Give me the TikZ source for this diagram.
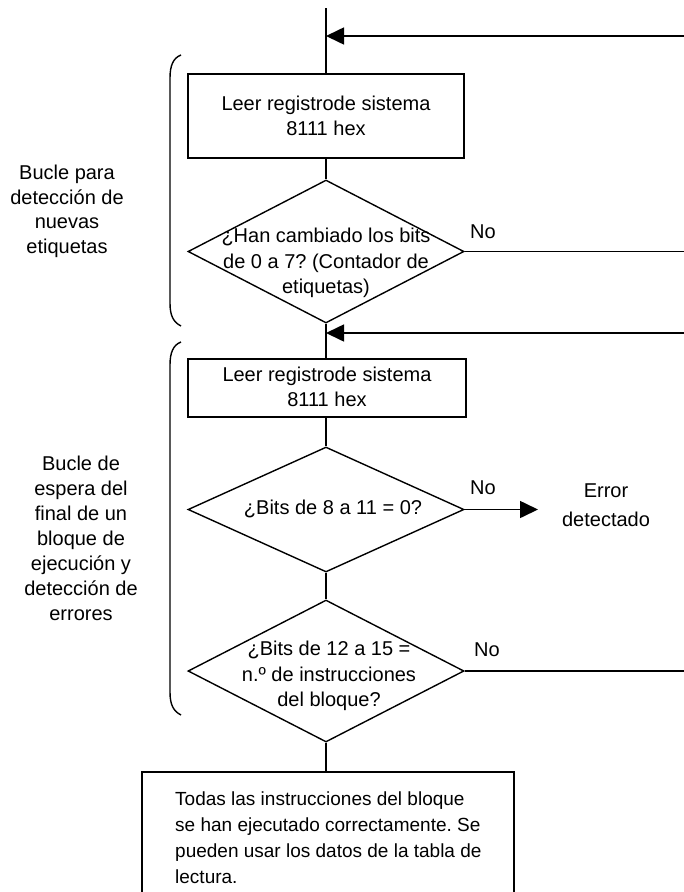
\documentclass[tikz,border=0pt]{standalone}
\usepackage{fontspec}
\setmainfont{Liberation Sans}
\usetikzlibrary{shapes.geometric,arrows.meta}
\frenchspacing
\begin{document}
\begin{tikzpicture}[x=1pt,y=-1pt,
  ln/.style={line width=1.6pt},
  arr/.style={line width=1.6pt,-{Triangle[length=18pt,width=17pt]}},
  box/.style={draw,line width=1.8pt,rectangle,inner sep=0pt},
  dia/.style={draw,line width=1.4pt,diamond,inner sep=0pt},
  txt/.style={align=center,inner sep=0pt,font=\fontsize{20}{25.5}\selectfont},
  brace/.style={line width=1.4pt}]
\useasboundingbox (0,0) rectangle (684,892);

% main flow nodes
\node[box,minimum width=276pt,minimum height=84pt] (b1) at (326,116) {};
\node[txt] (b1t) at (326,116) {Leer registrode sistema\\8111 hex};

\node[dia,minimum width=276pt,minimum height=143pt] (d1) at (326,251.5) {};
\node[txt] (d1t) at (326,263) {¿Han cambiado los bits\\de 0 a 7? (Contador de\\etiquetas)};

\node[box,minimum width=278pt,minimum height=58pt] (b2) at (327,388) {};
\node[txt] (b2t) at (327,387) {Leer registrode sistema\\8111 hex};

\node[dia,minimum width=276pt,minimum height=125pt] (d2) at (326,509.5) {};
\node[txt] (d2t) at (333,509) {¿Bits de 8 a 11 = 0?};

\node[dia,minimum width=276pt,minimum height=142pt] (d3) at (326,671) {};
\node[txt] (d3t) at (329,676) {¿Bits de 12 a 15 =\\n.º de instrucciones\\del bloque?};

\node[box,minimum width=372pt,minimum height=140pt] (b3) at (328,842) {};
\node[inner sep=0pt,align=left,anchor=north west,font=\fontsize{19}{26}\selectfont] (b3t) at (175,792)
  {Todas las instrucciones del bloque\\se han ejecutado correctamente. Se\\pueden usar los datos de la tabla de\\lectura.};

% side labels
\node[txt,font=\fontsize{20}{24.5}\selectfont] (l1) at (67,211.5) {Bucle para\\detección de\\nuevas\\etiquetas};
\node[txt,font=\fontsize{20}{25}\selectfont] (l2) at (81,538) {Bucle de\\espera del\\final de un\\bloque de\\ejecución y\\detección de\\errores};

% No labels and error
\node[txt] (no1) at (483,232) {No};
\node[txt] (no2) at (483,488) {No};
\node[txt] (no3) at (487,650) {No};
\node[txt,font=\fontsize{20}{29}\selectfont] (err) at (606,505) {Error\\detectado};

% coordinates
\coordinate (top) at (326,8);
\coordinate (r1) at (684,36);
\coordinate (j1) at (326,36);
\coordinate (r2) at (684,333);
\coordinate (j2) at (326,333);
\coordinate (e1) at (684,251.5);
\coordinate (e3) at (684,671);
\coordinate (errin) at (538,509.5);

% connectors
\draw[ln] (top) -- (b1.north);
\draw[ln] (b1.south) -- (d1.north);
\draw[ln] (d1.south) -- (b2.north -| d1.south);
\draw[ln] (b2.south -| d2.north) -- (d2.north);
\draw[ln] (d2.south) -- (d3.north);
\draw[ln] (d3.south) -- (b3.north -| d3.south);
\draw[arr] (r1) -- (j1);
\draw[arr] (r2) -- (j2);
\draw[ln] (d1.east) -- (e1);
\draw[ln] (d3.east) -- (e3);
\draw[arr] (d2.east) -- (errin);

% brackets
\draw[brace] (181,55) .. controls (173,58) and (170,66) .. (170,78) -- (170,303) .. controls (170,315) and (173,322) .. (181,326);
\draw[brace] (181,342) .. controls (173,345) and (170,353) .. (170,365) -- (170,692) .. controls (170,704) and (173,711) .. (181,715);
\end{tikzpicture}
\end{document}
